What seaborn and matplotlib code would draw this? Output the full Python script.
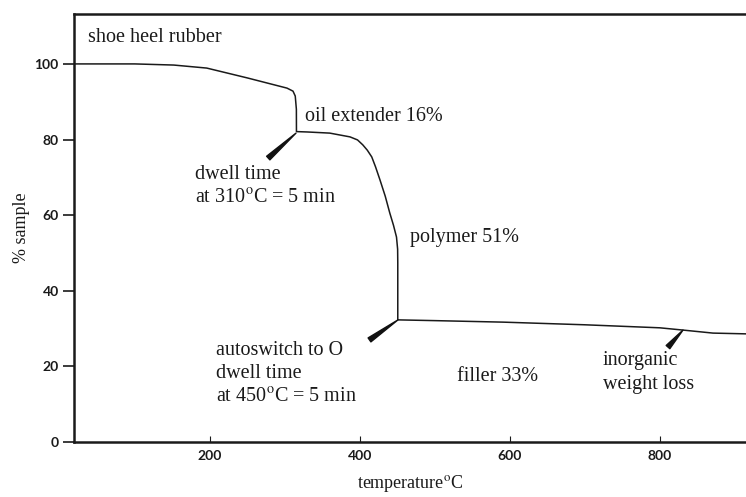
import matplotlib
matplotlib.use("Agg")
import pandas as pd
import seaborn as sns
from matplotlib import pyplot as plt

# TGA trace of shoe heel rubber
temperature = [19, 100, 152, 196, 250, 303, 311, 314, 315.5, 315.6, 330, 360,
               387, 397, 404, 410, 416, 421, 427, 434, 440, 445, 449, 450.5,
               450.7, 450.7, 500, 591, 700, 800, 831, 871, 915]
sample_pct = [100, 100, 99.7, 98.9, 96.3, 93.6, 92.8, 91.5, 88.0, 82.1, 82.0,
              81.7, 80.7, 79.9, 78.6, 77.2, 75.4, 72.8, 69.3, 65.0, 60.6, 57.3,
              54.2, 51.0, 47.4, 32.3, 32.1, 31.7, 31.0, 30.2, 29.6, 28.8, 28.6]

# short pointer wedges (curve point, tail point)
pointer_heads = [(315, 81.7), (451, 32.3), (831, 29.6)]
pointer_tails = [(278, 75.1), (413, 27.0), (811, 25.1)]

deg = r"$^{\mathrm{o}}$"
labels = ["shoe heel rubber", "oil extender 16%",
          "dwell time\nat 310" + deg + "C = 5 min", "polymer 51%",
          "autoswitch to O\ndwell time\nat 450" + deg + "C = 5 min",
          "filler 33%", "inorganic\nweight loss"]
label_pos = [(37, 107), (327, 86), (180, 67.6), (467, 54.2), (208, 18),
             (529, 17.2), (724, 18.4)]

x_ticks = [200, 400, 600, 800]
y_ticks = [0, 20, 40, 60, 80, 100]

sns.set_style("ticks")
plt.rcParams["mathtext.fontset"] = "stix"
serif = ["Liberation Serif", "DejaVu Serif"]

fig = plt.figure(figsize=(7.46, 4.97), dpi=100)
ax = fig.add_axes([0.0992, 0.1107, 0.9008, 0.8611])

df = pd.DataFrame({"temperature": temperature, "sample": sample_pct})
sns.lineplot(data=df, x="temperature", y="sample", ax=ax, sort=False,
             estimator=None, color="#1a1a1a", linewidth=1.1)

for head, tail in zip(pointer_heads, pointer_tails):
    ax.annotate("", xy=head, xytext=tail,
                arrowprops=dict(arrowstyle="wedge,tail_width=0.35,shrink_factor=0.5",
                                color="#111111", shrinkA=0, shrinkB=0))

for text, (tx, ty) in zip(labels, label_pos):
    ax.text(tx, ty, text, family=serif, fontsize=14.5, ha="left", va="center",
            linespacing=1.32, color="#1a1a1a")

ax.set_xlim(19, 915)
ax.set_ylim(0, 113.2)
ax.set_xticks(x_ticks)
ax.set_yticks(y_ticks)
ax.tick_params(axis="x", direction="in", length=4, width=0.8, pad=6,
               labelsize=10, colors="#1a1a1a")
ax.tick_params(axis="y", direction="out", length=8, width=1.2, pad=3,
               labelsize=10, colors="#1a1a1a")
for lab in ax.get_xticklabels() + ax.get_yticklabels():
    lab.set_family(["Lato", "DejaVu Sans"])
    lab.set_fontweight("bold")

ax.spines["right"].set_visible(False)
for side in ["left", "bottom", "top"]:
    ax.spines[side].set_linewidth(1.8)
    ax.spines[side].set_color("#1a1a1a")

ax.set_xlabel("temperature" + deg + "C", family=serif, fontsize=13,
              color="#1a1a1a", labelpad=8)
ax.set_ylabel("% sample", family=serif, fontsize=13, color="#1a1a1a",
              labelpad=3)

fig.savefig("out.png", dpi=100)
